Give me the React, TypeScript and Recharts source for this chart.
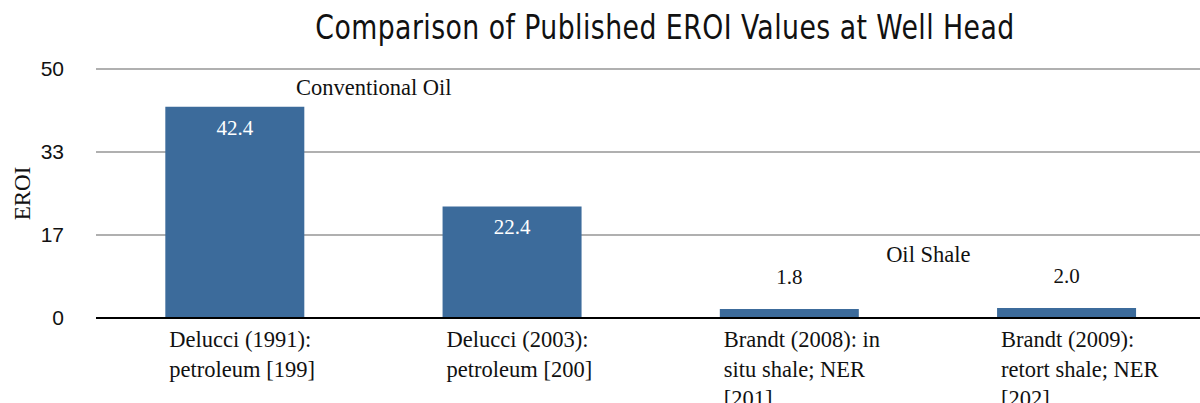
import { BarChart, Bar, XAxis, YAxis, CartesianGrid, LabelList } from 'recharts';

const categoryLines = [
  ['Delucci (1991):', 'petroleum [199]'],
  ['Delucci (2003):', 'petroleum [200]'],
  ['Brandt (2008): in', 'situ shale; NER', '[201]'],
  ['Brandt (2009):', 'retort shale; NER', '[202]'],
];
const eroiValues = [42.4, 22.4, 1.8, 2.0];
const groupNames = ['Conventional Oil', '', 'Oil Shale', ''];
const groupLevels = [46.2, 0, 12.7, 0];
const yTicks = [0, 16.67, 33.33, 50];

const BAR = '#3C6B9B';
const SERIF = '"Liberation Serif", "DejaVu Serif", serif';
const SANS = '"Liberation Sans", Arial, sans-serif';

const data = categoryLines.map((lines, i) => ({
  name: lines.join(' '),
  eroi: eroiValues[i],
  group: groupNames[i],
  level: groupLevels[i],
}));

function CategoryTick(props: any) {
  const { x, y, payload, index } = props;
  const half = payload?.offset ?? 69;
  const lines = categoryLines[index] ?? [String(payload.value)];
  return (
    <text x={x - half / 2 + 4} y={y + 27} fill="#111" fontFamily={SERIF} fontSize={22.5} textAnchor="start">
      {lines.map((l, i) => (
        <tspan key={i} x={x - half / 2 + 4} dy={i === 0 ? 0 : 29.5}>
          {l}
        </tspan>
      ))}
    </text>
  );
}

function ValueLabel(props: any) {
  const { x, y, width, value } = props;
  const big = value > 10;
  return (
    <text
      x={x + width / 2}
      y={big ? y + 21 : y - 32}
      textAnchor="middle"
      dominantBaseline="central"
      fill={big ? '#fff' : '#111'}
      fontFamily={SERIF}
      fontSize={21}
    >
      {Number(value).toFixed(1)}
    </text>
  );
}

function GroupLabel(props: any) {
  const { x, y, width, height, index } = props;
  const name = groupNames[index];
  if (!name) return null;
  const perUnit = height / eroiValues[index];
  const cy = y + height - groupLevels[index] * perUnit;
  return (
    <text
      x={x + width * 1.5}
      y={cy}
      textAnchor="middle"
      dominantBaseline="central"
      fill="#111"
      fontFamily={SERIF}
      fontSize={22.5}
    >
      {name}
    </text>
  );
}

export default function App() {
  return (
    <div style={{ position: 'absolute', left: 0, top: 0, width: 1200, height: 403, overflow: 'hidden', background: '#fff' }}>
      <div
        style={{
          position: 'absolute',
          left: 0,
          top: 11,
          width: 1330,
          textAlign: 'center',
          fontFamily: '"DejaVu Sans Condensed", "Liberation Sans", sans-serif',
          fontSize: 33,
          lineHeight: '34px',
          letterSpacing: 0.5,
          color: '#111',
          transform: 'scaleX(0.9)',
          transformOrigin: '665px 0',
        }}
      >
        Comparison of Published EROI Values at Well Head
      </div>
      <BarChart
        width={1210}
        height={403}
        data={data}
        margin={{ top: 69, right: 5, bottom: 0, left: 0 }}
        barCategoryGap="25%"
      >
        <CartesianGrid vertical={false} stroke="#B0B0B0" strokeWidth={2} />
        <XAxis
          dataKey="name"
          height={85}
          interval={0}
          tickLine={false}
          tickSize={0}
          axisLine={{ stroke: '#000', strokeWidth: 2 }}
          tick={<CategoryTick />}
        />
        <YAxis
          width={96}
          domain={[0, 50]}
          ticks={yTicks}
          axisLine={false}
          tickLine={false}
          tickSize={0}
          tickMargin={32}
          tickFormatter={(v: number) => String(Math.round(v))}
          tick={{ fontFamily: SANS, fontSize: 21, fill: '#111' }}
          label={({ viewBox }: any) => (
            <text
              x={22}
              y={viewBox.y + viewBox.height / 2}
              transform={`rotate(-90, 22, ${viewBox.y + viewBox.height / 2})`}
              textAnchor="middle"
              dominantBaseline="central"
              fontFamily={SERIF}
              fontSize={23}
              fill="#111"
            >
              EROI
            </text>
          )}
        />
        <Bar dataKey="eroi" fill={BAR} isAnimationActive={false}>
          <LabelList dataKey="eroi" content={<ValueLabel />} />
          <LabelList dataKey="group" content={<GroupLabel />} />
        </Bar>
      </BarChart>
    </div>
  );
}
